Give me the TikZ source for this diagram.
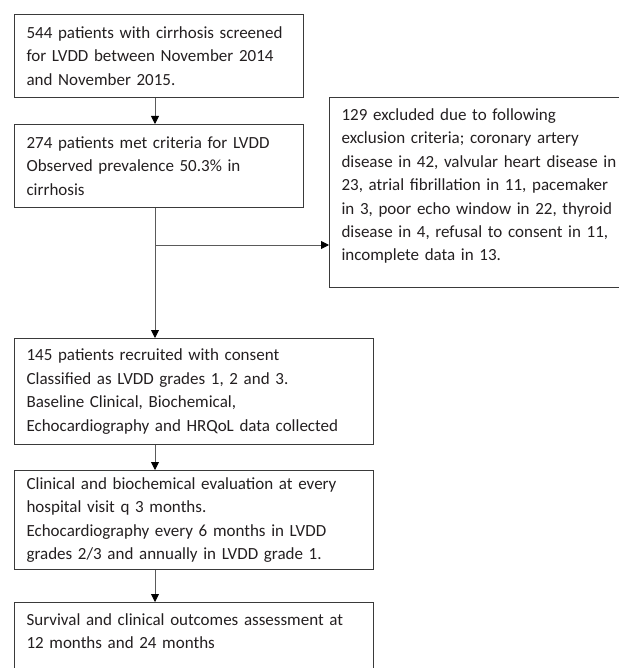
\documentclass[tikz,border=0pt]{standalone}
\usepackage{fontspec}
\setmainfont{Carlito}
\usetikzlibrary{arrows.meta}
\definecolor{boxline}{HTML}{3A3A3A}
\definecolor{linkline}{HTML}{5A5A5A}
\definecolor{txt}{HTML}{231F20}

\begin{document}
\begin{tikzpicture}[x=1bp, y=-1bp,
		box/.style={draw=boxline, line width=1.1bp, anchor=north west, align=left, inner xsep=12bp, inner ysep=0bp, text=txt, font=\fontsize{17bp}{23.4bp}\selectfont},
		arr/.style={draw=linkline, line width=0.9bp, -{Triangle[width=8bp, length=8bp, color=black]}}]
			%%%%% START %%%%%
			
			\useasboundingbox (0, 0) rectangle (619, 668);
			\clip (0, 0) rectangle (619, 668);
			
			\coordinate (spine) at (155, 0);
			\coordinate (branch) at (155, 245);
			
			\node[box, text width=265bp, minimum height=83bp] (screen) at (14, 14) {544 patients with cirrhosis screened\\for LVDD between November 2014\\and November 2015.};
			\node[box, text width=265bp, minimum height=83bp] (met) at (14, 124) {274 patients met criteria for LVDD\\Observed prevalence 50.3\% in\\cirrhosis};
			
			\node[box, text width=320bp, minimum height=190bp] (excl) at (329, 97) {129 excluded due to following\\exclusion criteria; coronary artery\\disease in 42, valvular heart disease in\\23, atrial fibrillation in 11, pacemaker\\in 3, poor echo window in 22, thyroid\\disease in 4, refusal to consent in 11,\\incomplete data in 13.\\[-8bp]~};
			
			\node[box, text width=335bp, minimum height=106bp] (recruit) at (14, 338) {145 patients recruited with consent\\Classified as LVDD grades 1, 2 and 3.\\Baseline Clinical, Biochemical,\\Echocardiography and HRQoL data collected};
			\node[box, text width=335bp, minimum height=99bp] (follow) at (14, 470) {Clinical and biochemical evaluation at every\\hospital visit q 3 months.\\Echocardiography every 6 months in LVDD\\grades 2/3 and annually in LVDD grade 1.};
			\node[box, text width=335bp, minimum height=104bp] (outcome) at (14, 602) {Survival and clinical outcomes assessment at\\12 months and 24 months\\~\\~};
			
			\draw[arr] (screen.south -| spine) -- (met.north -| spine);
			\draw[arr] (met.south -| spine) -- (recruit.north -| spine);
			\draw[arr] (branch) -- (branch -| excl.west);
			\draw[arr] (recruit.south -| spine) -- (follow.north -| spine);
			\draw[arr] (follow.south -| spine) -- (outcome.north -| spine);
			
			%%%%% END %%%%%
		\end{tikzpicture}
\end{document}
